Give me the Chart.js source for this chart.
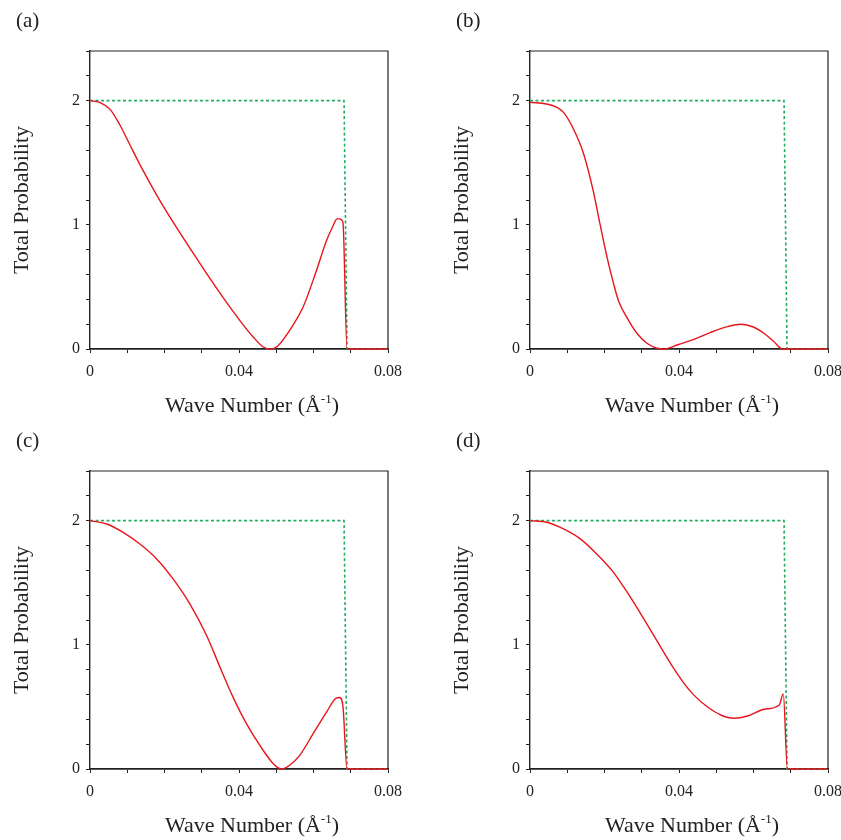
<!DOCTYPE html>
<html>
<head>
<meta charset="utf-8">
<script src="https://cdn.jsdelivr.net/npm/chart.js@4.4.1/dist/chart.umd.min.js"></script>
<style>
  html, body { margin: 0; padding: 0; background: #fff; overflow: hidden; }
  body { width: 841px; height: 840px; position: relative; }
  .panel { position: absolute; width: 420px; height: 420px; }
</style>
</head>
<body>
<div class="panel" style="left:0;top:0"><canvas id="chartA"></canvas></div>
<div class="panel" style="left:440px;top:0"><canvas id="chartB"></canvas></div>
<div class="panel" style="left:0;top:420px"><canvas id="chartC"></canvas></div>
<div class="panel" style="left:440px;top:420px"><canvas id="chartD"></canvas></div>
<script>
// tick labels
const xTickLabels = [0, 0.04, 0.08];
const yTickLabels = [0, 1, 2];

// panel labels
const panelNames = ["(a)", "(b)", "(c)", "(d)"];

// green dotted step (same in every panel)
const stepX = [0, 0.0682, 0.0690, 0.08];
const stepY = [2, 2, 0, 0];

// red curves
const waveA = [0, 0.0027, 0.0054, 0.0081, 0.0107, 0.0134, 0.0179, 0.0233, 0.0295, 0.0349, 0.0402, 0.0438, 0.0465, 0.0485, 0.0501, 0.0536, 0.0572, 0.0608, 0.0635, 0.0653, 0.0663, 0.0670, 0.0679, 0.0690, 0.08];
const probA = [2.0, 1.985, 1.93, 1.80, 1.645, 1.485, 1.24, 0.975, 0.69, 0.45, 0.231, 0.097, 0.016, 0, 0.016, 0.15, 0.338, 0.633, 0.874, 0.995, 1.048, 1.048, 1.021, 0, 0];

const waveB = [0, 0.0045, 0.0072, 0.009, 0.0117, 0.0143, 0.017, 0.0188, 0.0206, 0.0224, 0.0238, 0.026, 0.0287, 0.0314, 0.0341, 0.0359, 0.0395, 0.044, 0.0485, 0.053, 0.0566, 0.0601, 0.0628, 0.0655, 0.0678, 0.08];
const probB = [1.987, 1.973, 1.946, 1.906, 1.77, 1.58, 1.27, 1.005, 0.75, 0.53, 0.385, 0.255, 0.127, 0.046, 0.006, 0, 0.032, 0.078, 0.134, 0.18, 0.199, 0.175, 0.127, 0.059, 0, 0];

const waveC = [0, 0.0045, 0.0089, 0.0134, 0.0179, 0.0223, 0.0268, 0.0313, 0.0349, 0.0384, 0.042, 0.0456, 0.0492, 0.0514, 0.0536, 0.0563, 0.0599, 0.0635, 0.0661, 0.067, 0.0679, 0.069, 0.08];
const probC = [2.0, 1.973, 1.906, 1.812, 1.692, 1.531, 1.33, 1.075, 0.82, 0.579, 0.365, 0.19, 0.043, 0, 0.03, 0.11, 0.284, 0.458, 0.571, 0.576, 0.507, 0, 0];

const waveD = [0, 0.0045, 0.009, 0.0135, 0.0179, 0.0224, 0.0269, 0.0296, 0.0332, 0.0373, 0.0382, 0.0413, 0.044, 0.0476, 0.0512, 0.0548, 0.0584, 0.0628, 0.0669, 0.068, 0.0691, 0.08];
const probD = [2.0, 1.987, 1.933, 1.853, 1.732, 1.584, 1.386, 1.256, 1.076, 0.871, 0.828, 0.692, 0.595, 0.501, 0.435, 0.409, 0.427, 0.481, 0.516, 0.605, 0, 0];

const serif = "'Liberation Serif', 'Times New Roman', serif";
const ink = "#222";

function toPoints(xs, ys) {
    return xs.map((x, i) => ({ x: x, y: ys[i] }));
}

// frame on top/right, panel letter and x title with superscript
const decorPlugin = {
    id: "decor",
    afterDraw(chart, args, opts) {
        const { ctx, chartArea: a } = chart;
        ctx.save();
        ctx.strokeStyle = ink;
        ctx.lineWidth = 1.2;
        ctx.beginPath();
        ctx.moveTo(a.left, a.top);
        ctx.lineTo(a.right, a.top);
        ctx.lineTo(a.right, a.bottom);
        ctx.stroke();

        ctx.fillStyle = ink;
        ctx.textBaseline = "alphabetic";
        ctx.font = "21px " + serif;
        ctx.fillText(opts.name, 16, 27);

        // x axis title
        const main = "Wave Number (Å";
        const sup = "-1";
        const close = ")";
        ctx.font = "22px " + serif;
        const w1 = ctx.measureText(main).width;
        const w3 = ctx.measureText(close).width;
        ctx.font = "13px " + serif;
        const w2 = ctx.measureText(sup).width;
        const total = w1 + w2 + w3;
        let x = (a.left + a.right) / 2 + 13 - total / 2;
        const y = 412;
        ctx.font = "22px " + serif;
        ctx.fillText(main, x, y);
        x += w1;
        ctx.font = "13px " + serif;
        ctx.fillText(sup, x, y - 9);
        x += w2;
        ctx.font = "22px " + serif;
        ctx.fillText(close, x, y);
        ctx.restore();
    }
};

function makePanel(id, name, xs, ys) {
    return new Chart(document.getElementById(id), {
        type: "line",
        data: {
            datasets: [{
                data: toPoints(xs, ys),
                borderColor: "#e8151c",
                borderWidth: 1.4,
                pointRadius: 0,
                cubicInterpolationMode: "monotone",
                clip: 3
            }, {
                data: toPoints(stepX, stepY),
                borderColor: "#25ad62",
                borderWidth: 1.6,
                borderDash: [3, 2.5],
                pointRadius: 0,
                tension: 0,
                clip: 3
            }]
        },
        options: {
            responsive: false,
            animation: false,
            events: [],
            layout: { padding: { top: 51, right: 32, left: 0, bottom: 0 } },
            plugins: {
                legend: { display: false },
                tooltip: { enabled: false },
                decor: { name: name }
            },
            scales: {
                x: {
                    type: "linear",
                    min: 0,
                    max: 0.08,
                    afterFit(scale) { scale.height = 71; },
                    border: { display: true, color: ink, width: 1.8 },
                    grid: { drawOnChartArea: false, drawTicks: true, tickLength: 4, color: ink },
                    ticks: {
                        stepSize: 0.01,
                        autoSkip: false,
                        maxRotation: 0,
                        padding: 9,
                        color: ink,
                        font: { family: serif, size: 16 },
                        callback(v) {
                            const hit = xTickLabels.find(t => Math.abs(t - v) < 1e-6);
                            return hit === undefined ? "" : String(hit);
                        }
                    }
                },
                y: {
                    min: 0,
                    max: 2.4,
                    afterFit(scale) { scale.width = 90; },
                    border: { display: true, color: ink, width: 1.4 },
                    grid: { drawOnChartArea: false, drawTicks: true, tickLength: 4, color: ink },
                    title: {
                        display: true,
                        text: "Total Probability",
                        color: ink,
                        font: { family: serif, size: 22 },
                        padding: { top: 9, bottom: 0 }
                    },
                    ticks: {
                        stepSize: 0.2,
                        autoSkip: false,
                        padding: 6,
                        color: ink,
                        font: { family: serif, size: 16 },
                        callback(v) {
                            const hit = yTickLabels.find(t => Math.abs(t - v) < 1e-6);
                            return hit === undefined ? "" : String(hit);
                        }
                    }
                }
            }
        },
        plugins: [decorPlugin]
    });
}

document.querySelectorAll("canvas").forEach(c => { c.width = 420; c.height = 420; });
makePanel("chartA", panelNames[0], waveA, probA);
makePanel("chartB", panelNames[1], waveB, probB);
makePanel("chartC", panelNames[2], waveC, probC);
makePanel("chartD", panelNames[3], waveD, probD);
</script>
</body>
</html>
